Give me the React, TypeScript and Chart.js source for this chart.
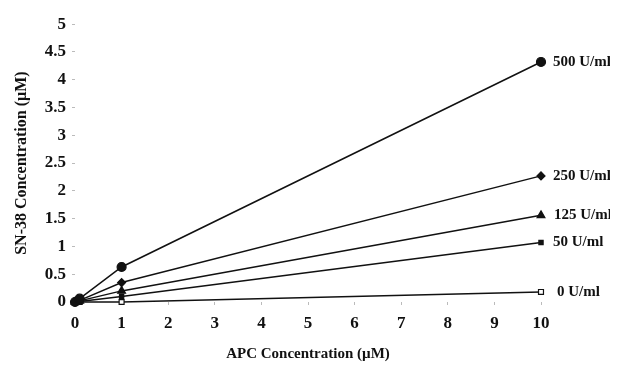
import React, { useEffect, useRef } from "react";
import { Chart, registerables } from "chart.js";

Chart.register(...registerables);

const apcConc = [0, 0.1, 1, 10];
const series500 = [0, 0.06, 0.63, 4.32];
const series250 = [0, 0.03, 0.35, 2.27];
const series125 = [0, 0.02, 0.2, 1.56];
const series50 = [0, 0.01, 0.1, 1.07];
const series0 = [0, 0, 0, 0.18];
const seriesLabels = ["500 U/ml", "250 U/ml", "125 U/ml", "50 U/ml", "0 U/ml"];
const yTicks = ["0", "0.5", "1", "1.5", "2", "2.5", "3", "3.5", "4", "4.5", "5"];

const FONT = "'Liberation Serif', 'Times New Roman', serif";

const endLabels = {
  id: "endLabels",
  afterDatasetsDraw(chart: any) {
    const ctx = chart.ctx;
    ctx.save();
    ctx.font = `bold 15px ${FONT}`;
    ctx.fillStyle = "#111";
    ctx.textBaseline = "middle";
    ctx.textAlign = "left";
    chart.data.datasets.forEach((ds: any, i: number) => {
      const meta = chart.getDatasetMeta(i);
      const pt = meta.data[meta.data.length - 1];
      const off = i === 2 ? 13 : i === 4 ? 16 : 12;
      ctx.fillText(ds.label, pt.x + off, pt.y);
    });
    ctx.restore();
  },
};

export default function App() {
  const ref = useRef<HTMLCanvasElement>(null);
  useEffect(() => {
    if (!ref.current) return;
    const mk = (vals: number[], label: string, style: string, r: number, fill: string) => ({
      label,
      data: apcConc.map((x, i) => ({ x, y: vals[i] })),
      borderColor: "#111",
      borderWidth: 1.5,
      pointStyle: style,
      pointRadius: r,
      pointBackgroundColor: fill,
      pointBorderColor: "#111",
      pointBorderWidth: 1.2,
      clip: false as any,
    });
    const chart = new Chart(ref.current, {
      type: "line",
      data: {
        datasets: [
          mk(series500, seriesLabels[0], "circle", 4.5, "#111"),
          mk(series250, seriesLabels[1], "rectRot", 4, "#111"),
          mk(series125, seriesLabels[2], "triangle", 4.5, "#111"),
          mk(series50, seriesLabels[3], "rect", 3, "#111"),
          mk(series0, seriesLabels[4], "rect", 3.5, "#fff"),
        ],
      },
      options: {
        animation: false,
        responsive: false,
        maintainAspectRatio: false,
        layout: { padding: { top: 12, right: 69, left: 0, bottom: 0 } },
        plugins: { legend: { display: false }, tooltip: { enabled: false } },
        scales: {
          x: {
            type: "linear",
            min: 0,
            max: 10,
            ticks: { stepSize: 1, color: "#111", font: { family: FONT, size: 17, weight: "bold" }, padding: 8 },
            grid: { display: true, drawOnChartArea: false, tickLength: 3, color: "#bbb" },
            border: { display: false },
            title: { display: true, text: "APC Concentration (\u00b5M)", color: "#111", font: { family: FONT, size: 15, weight: "bold" }, padding: { top: 8 } },
            afterFit: (s: any) => { s.height = 65; },
          },
          y: {
            type: "linear",
            min: 0,
            max: 5,
            ticks: {
              stepSize: 0.5,
              color: "#111",
              font: { family: FONT, size: 17, weight: "bold" },
              padding: 6,
              callback: (v: any) => yTicks[Math.round(Number(v) * 2)],
            },
            grid: { display: true, drawOnChartArea: false, tickLength: 3, color: "#bbb" },
            border: { display: false },
            title: { display: true, text: "SN-38 Concentration (\u00b5M)", color: "#111", font: { family: FONT, size: 16, weight: "bold" }, padding: { bottom: 4 } },
            afterFit: (s: any) => { s.width = 67; },
          },
        },
      },
      plugins: [endLabels],
    });
    return () => chart.destroy();
  }, []);
  return (
    <div style={{ width: 602, height: 359, background: "#fff" }}>
      <canvas ref={ref} width={602} height={359} style={{ width: 602, height: 359, display: "block" }} />
    </div>
  );
}
